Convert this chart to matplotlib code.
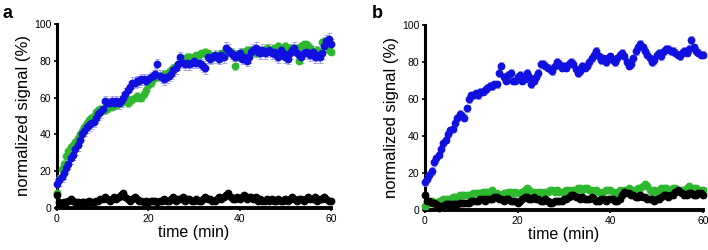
import numpy as np
import matplotlib
matplotlib.use("Agg")
import matplotlib.pyplot as plt

plt.rcParams['font.family'] = ['Liberation Sans', 'DejaVu Sans']

# time points (min), every 0.5 min
t = np.arange(0, 60.5, 0.5)

#----------------------------------------------------------#
# panel a
#----------------------------------------------------------#
a_blue = [13, 15, 17, 19, 22, 24, 27, 29, 32, 34,
          37, 40, 42, 44, 45, 46, 47, 49, 51, 52,
          54, 58, 57, 57, 58, 57, 58, 57, 58, 60,
          62, 64, 66, 68, 68, 69, 69, 70, 70, 69,
          70, 71, 72, 73, 78, 72, 71, 70, 71, 72,
          73, 75, 76, 78, 82, 79, 78, 79, 78, 79,
          80, 79, 79, 78, 77, 76, 82, 81, 82, 83,
          82, 81, 83, 82, 87, 86, 84, 83, 82, 83,
          84, 81, 82, 80, 82, 85, 86, 87, 85, 84,
          86, 84, 85, 86, 84, 85, 83, 82, 86, 84,
          82, 81, 84, 86, 87, 84, 83, 82, 84, 85,
          84, 83, 85, 82, 83, 82, 84, 88, 91, 92,
          89]
a_green = [8, 16, 21, 24, 28, 31, 33, 34, 36, 38,
           40, 42, 44, 46, 48, 49, 50, 52, 53, 54,
           54, 53, 54, 55, 55, 56, 56, 57, 57, 58,
           60, 57, 58, 59, 60, 61, 60, 60, 62, 64,
           67, 68, 70, 71, 71, 72, 72, 73, 73, 74,
           75, 76, 77, 78, 79, 80, 81, 82, 82, 81,
           82, 83, 83, 84, 84, 85, 84, 83, 82, 83,
           82, 83, 84, 83, 84, 85, 85, 84, 77, 82,
           84, 85, 84, 86, 85, 86, 85, 84, 86, 85,
           85, 86, 87, 86, 86, 87, 86, 88, 87, 86,
           88, 87, 87, 86, 86, 87, 80, 88, 89, 89,
           88, 87, 84, 85, 86, 84, 90, 91, 90, 86,
           85]
a_black = [7, 3, 2, 3, 3, 4, 5, 4, 3, 3,
           2, 3, 3, 3, 4, 3, 3, 4, 4, 5,
           5, 6, 5, 4, 5, 6, 5, 6, 7, 8,
           6, 5, 4, 5, 6, 5, 4, 4, 3, 4,
           3, 4, 4, 4, 3, 4, 4, 5, 4, 4,
           5, 6, 4, 5, 5, 6, 4, 5, 5, 4,
           4, 5, 4, 4, 5, 6, 5, 5, 4, 4,
           5, 6, 5, 6, 7, 8, 6, 5, 5, 6,
           5, 6, 7, 5, 6, 6, 5, 6, 4, 5,
           4, 4, 5, 4, 5, 4, 4, 5, 4, 4,
           5, 4, 5, 6, 5, 4, 5, 5, 4, 5,
           6, 5, 5, 6, 4, 5, 5, 6, 5, 4,
           4]

#----------------------------------------------------------#
# panel b
#----------------------------------------------------------#
b_blue = [15, 17, 19, 21, 26, 28, 30, 33, 36, 38,
          41, 43, 44, 47, 50, 52, 51, 50, 55, 60,
          62, 62, 63, 62, 64, 64, 65, 66, 67, 67,
          68, 68, 74, 78, 72, 70, 73, 74, 70, 70,
          72, 73, 70, 71, 74, 72, 68, 70, 72, 74,
          79, 79, 78, 77, 76, 75, 78, 80, 79, 77,
          78, 77, 79, 80, 79, 76, 74, 75, 78, 77,
          78, 80, 82, 84, 86, 83, 81, 82, 80, 82,
          83, 81, 80, 82, 84, 85, 83, 80, 78, 79,
          82, 86, 88, 90, 88, 86, 84, 82, 80, 81,
          84, 85, 83, 86, 87, 87, 86, 86, 85, 84,
          83, 85, 86, 85, 87, 92, 88, 86, 85, 84,
          84]
b_green = [2, 3, 5, 5, 4, 4, 5, 5, 6, 6,
           6, 6, 7, 7, 7, 8, 8, 8, 8, 8,
           8, 9, 9, 9, 9, 10, 10, 10, 10, 11,
           9, 9, 8, 8, 9, 9, 10, 10, 9, 10,
           9, 9, 10, 11, 12, 11, 10, 10, 9, 10,
           10, 9, 10, 10, 11, 11, 10, 11, 10, 10,
           10, 11, 11, 10, 11, 11, 12, 12, 11, 12,
           12, 11, 11, 10, 11, 10, 9, 10, 11, 11,
           11, 10, 9, 10, 11, 10, 11, 11, 12, 11,
           11, 11, 12, 12, 13, 14, 13, 11, 10, 11,
           10, 11, 12, 12, 12, 11, 11, 12, 12, 11,
           10, 11, 11, 12, 13, 12, 12, 12, 11, 11,
           11]
b_black = [8, 5, 5, 4, 4, 3, 1, 2, 2, 3,
           3, 3, 3, 3, 3, 4, 4, 4, 4, 4,
           5, 5, 5, 5, 6, 6, 5, 6, 6, 6,
           7, 7, 6, 6, 5, 6, 6, 5, 5, 5,
           4, 5, 6, 7, 7, 6, 6, 7, 6, 6,
           5, 5, 6, 5, 4, 4, 5, 5, 5, 5,
           6, 6, 7, 8, 8, 7, 7, 6, 7, 6,
           6, 6, 7, 6, 5, 5, 6, 6, 5, 6,
           6, 6, 5, 5, 6, 8, 10, 9, 9, 8,
           8, 7, 7, 8, 7, 7, 6, 6, 6, 5,
           6, 6, 7, 8, 8, 7, 8, 8, 10, 11,
           10, 9, 8, 8, 9, 9, 8, 8, 9, 9,
           8]

# rough error bar size (sem, %) per series
a_blue_err = 3.0
a_green_err = 2.0
a_black_err = 1.0
b_blue_err = 2.0
b_green_err = 1.5
b_black_err = 1.5

blue = '#1010e0'
green = '#2eb82e'
black = '#000000'

fig = plt.figure(figsize=(7.08, 2.5), dpi=100)
ax1 = fig.add_axes([0.0805, 0.168, 0.387, 0.736])
ax2 = fig.add_axes([0.600, 0.160, 0.393, 0.740])


def draw(ax, series):
    for y, err, col, ecol in series:
        if col == black:
            ax.plot(t, y, '-', color=col, lw=2.2, clip_on=False, zorder=3)
        ax.errorbar(t, y, yerr=err, fmt='o', color=col, ms=4.6, mec=col,
                    ecolor=ecol, elinewidth=0.6, capsize=1.8, capthick=0.6,
                    clip_on=False, zorder=3)
    ax.set_xlim(0, 60)
    ax.set_ylim(0, 100)
    ax.set_xticks([0, 20, 40, 60])
    ax.set_yticks([0, 20, 40, 60, 80, 100])
    for s in ['top', 'right']:
        ax.spines[s].set_visible(False)
    ax.spines['left'].set_linewidth(2.2)
    ax.spines['bottom'].set_linewidth(2.8)
    ax.tick_params(axis='both', labelsize=7.5, length=2.5, width=1.2, pad=1.5)
    ax.set_xlabel('time (min)', fontsize=11.5, labelpad=1)
    ax.set_ylabel('normalized signal (%)', fontsize=12, labelpad=2)


draw(ax1, [(a_green, a_green_err, green, '#a6dca6'),
           (a_blue, a_blue_err, blue, '#9a9af0'),
           (a_black, a_black_err, black, '#999999')])
draw(ax2, [(b_blue, b_blue_err, blue, '#9a9af0'),
           (b_green, b_green_err, green, '#a6dca6'),
           (b_black, b_black_err, black, '#999999')])

fig.text(0.003, 0.93, 'a', fontsize=13, fontweight='bold')
fig.text(0.525, 0.93, 'b', fontsize=13, fontweight='bold')

fig.savefig('out.png', dpi=100)
